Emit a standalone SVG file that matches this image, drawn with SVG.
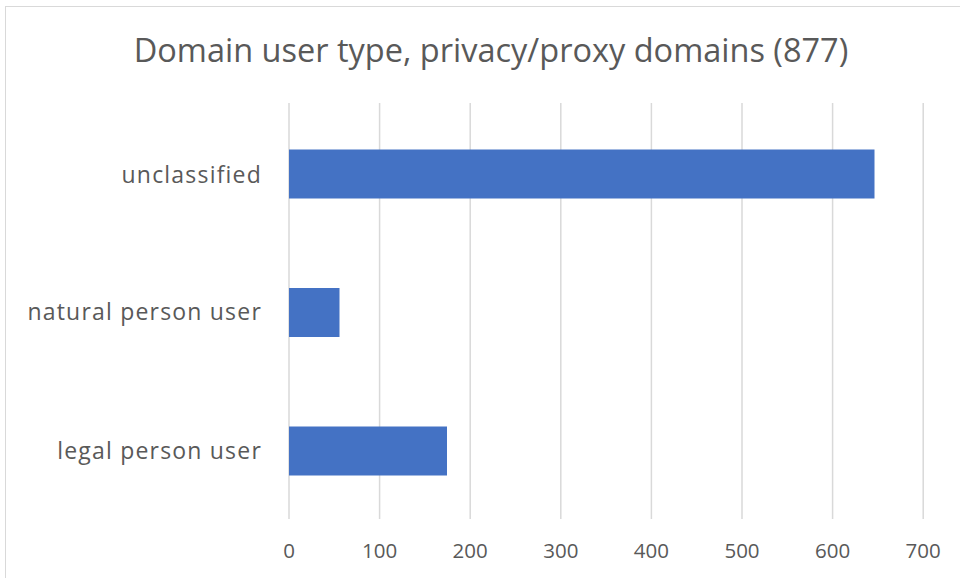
<svg xmlns="http://www.w3.org/2000/svg" width="960" height="578" viewBox="0 0 960 578">
<style>
.grid{stroke:#d9d9d9;stroke-width:1.5}
.bar{fill:#4472c4}
.lbl{font-family:"Open Sans","Liberation Sans",sans-serif;font-size:23px;letter-spacing:1.2px;fill:#595959}
.tick{font-family:"Open Sans","Liberation Sans",sans-serif;font-size:20.5px;fill:#595959}
.title{font-family:"Open Sans","Liberation Sans",sans-serif;font-size:32.5px;fill:#595959}
</style>
<rect x="0" y="0" width="960" height="578" fill="#ffffff"/>
<rect x="5.5" y="6.5" width="960" height="580" fill="none" stroke="#d9d9d9" stroke-width="1"/>
<text class="title" x="491" y="61.5" text-anchor="middle">Domain user type, privacy/proxy domains (877)</text>
<g id="grid">
<line class="grid" x1="289" y1="103" x2="289" y2="519"/>
<line class="grid" x1="379.6" y1="103" x2="379.6" y2="519"/>
<line class="grid" x1="470.2" y1="103" x2="470.2" y2="519"/>
<line class="grid" x1="560.8" y1="103" x2="560.8" y2="519"/>
<line class="grid" x1="651.4" y1="103" x2="651.4" y2="519"/>
<line class="grid" x1="742" y1="103" x2="742" y2="519"/>
<line class="grid" x1="832.6" y1="103" x2="832.6" y2="519"/>
<line class="grid" x1="923.2" y1="103" x2="923.2" y2="519"/>
</g>
<g id="xlabels" class="tick" text-anchor="middle">
<text x="289" y="557.5">0</text>
<text x="379.6" y="557.5">100</text>
<text x="470.2" y="557.5">200</text>
<text x="560.8" y="557.5">300</text>
<text x="651.4" y="557.5">400</text>
<text x="742" y="557.5">500</text>
<text x="832.6" y="557.5">600</text>
<text x="923.2" y="557.5">700</text>
</g>
<g id="unclassified">
<rect class="bar" x="289" y="149.5" width="585.5" height="49"/>
<text class="lbl" x="262" y="182.5" text-anchor="end">unclassified</text>
</g>
<g id="natural">
<rect class="bar" x="289" y="288" width="50.5" height="49"/>
<text class="lbl" x="262" y="319.5" text-anchor="end">natural person user</text>
</g>
<g id="legal">
<rect class="bar" x="289" y="426.5" width="158" height="49"/>
<text class="lbl" x="262" y="458.5" text-anchor="end">legal person user</text>
</g>
</svg>
